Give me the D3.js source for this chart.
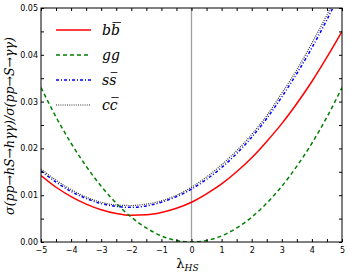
<!DOCTYPE html>
<html>
<head>
<meta charset="utf-8">
<script src="https://cdn.jsdelivr.net/npm/d3@7"></script>
<style>
  body { margin: 0; background: #fff; }
  .axis text { font-family: "DejaVu Sans", sans-serif; font-size: 8px; fill: #000; }
  .math { font-family: "DejaVu Serif", "Liberation Serif", serif; font-style: italic; }
</style>
</head>
<body>
<div id="chart"></div>
<script>
// lambda_HS grid and ratio values
const lam = [-5, -4.5, -4, -3.5, -3, -2.5, -2, -1.5, -1, -0.5, 0, 0.5, 1, 1.5, 2, 2.5, 3, 3.5, 4, 4.5, 5];
const bb = [0.0142, 0.0117, 0.0097, 0.0081, 0.0069, 0.0061, 0.0057, 0.0058, 0.0063, 0.0072, 0.0085, 0.0103, 0.0124, 0.0150, 0.0180, 0.0215, 0.0253, 0.0296, 0.0343, 0.0395, 0.0450];
const gg = [0.0330, 0.0267, 0.0211, 0.0162, 0.0119, 0.0083, 0.0053, 0.0030, 0.0013, 0.0003, 0.0000, 0.0003, 0.0013, 0.0030, 0.0053, 0.0083, 0.0119, 0.0162, 0.0211, 0.0267, 0.0330];
const ss = [0.0152, 0.0128, 0.0108, 0.0093, 0.0082, 0.0076, 0.0074, 0.0077, 0.0085, 0.0097, 0.0113, 0.0134, 0.0159, 0.0189, 0.0224, 0.0264, 0.0310, 0.0360, 0.0415, 0.0475, 0.0540];
const cc = [0.0156, 0.0132, 0.0112, 0.0096, 0.0085, 0.0079, 0.0078, 0.0081, 0.0088, 0.0100, 0.0117, 0.0139, 0.0165, 0.0195, 0.0230, 0.0270, 0.0318, 0.0368, 0.0425, 0.0485, 0.0550];
const xTicks = [-5, -4, -3, -2, -1, 0, 1, 2, 3, 4, 5];
const yTicks = [0, 0.01, 0.02, 0.03, 0.04, 0.05];

const specs = [
  { vals: bb, color: "#ff0000", dash: null, w: 1.5, a: "b", b: "b" },
  { vals: gg, color: "#008000", dash: "4,3", w: 1.5, a: "gg", b: null },
  { vals: ss, color: "#0000ff", dash: "3,2,1,2", w: 1.5, a: "s", b: "s" },
  { vals: cc, color: "#333333", dash: "1,1.2", w: 1.2, a: "c", b: "c" }
];

const width = 349, height = 274, margin = { top: 8, right: 7, bottom: 32, left: 41 };
const svg = d3.select("#chart").append("svg").attr("width", width).attr("height", height);
const x = d3.scaleLinear().domain([-5, 5]).range([margin.left, width - margin.right]);
const y = d3.scaleLinear().domain([0, 0.05]).range([height - margin.bottom, margin.top]);

svg.append("defs").append("clipPath").attr("id", "clip").append("rect")
  .attr("x", x(-5)).attr("y", y(0.05)).attr("width", x(5) - x(-5)).attr("height", y(0) - y(0.05));

// vertical line at 0
svg.append("line").attr("x1", x(0)).attr("x2", x(0)).attr("y1", y(0)).attr("y2", y(0.05))
  .attr("stroke", "#a0a0a0").attr("stroke-width", 1.3);

const line = d3.line().x((d, i) => x(lam[i])).y(d => y(d)).curve(d3.curveMonotoneX);
const g = svg.append("g").attr("clip-path", "url(#clip)");
specs.forEach(s => {
  g.append("path").datum(s.vals).attr("fill", "none").attr("stroke", s.color)
    .attr("stroke-width", s.w).attr("stroke-dasharray", s.dash).attr("d", line);
});

// ticks inward on all sides
const xMinor = d3.range(-5, 5.01, 0.5), yMinor = d3.range(0, 0.0501, 0.005);
svg.append("g").attr("class", "axis").attr("transform", `translate(0,${y(0)})`)
  .call(d3.axisBottom(x).tickValues(xMinor).tickSizeInner(-3).tickSizeOuter(0)
    .tickPadding(5).tickFormat(d => xTicks.includes(d) ? d3.format("d")(d).replace("-", "−") : ""));
svg.append("g").attr("class", "axis").attr("transform", `translate(0,${y(0.05)})`)
  .call(d3.axisTop(x).tickValues(xMinor).tickSizeInner(-3).tickSizeOuter(0).tickFormat(""));
svg.append("g").attr("class", "axis").attr("transform", `translate(${x(-5)},0)`)
  .call(d3.axisLeft(y).tickValues(yMinor).tickSizeInner(-3).tickSizeOuter(0)
    .tickPadding(3).tickFormat(d => yTicks.some(t => Math.abs(t - d) < 1e-9) ? d3.format(".2f")(d) : ""));
svg.append("g").attr("class", "axis").attr("transform", `translate(${x(5)},0)`)
  .call(d3.axisRight(y).tickValues(yMinor).tickSizeInner(-3).tickSizeOuter(0).tickFormat(""));
svg.selectAll(".axis .domain").remove();
svg.append("rect").attr("x", x(-5)).attr("y", y(0.05)).attr("width", x(5) - x(-5))
  .attr("height", y(0) - y(0.05)).attr("fill", "none").attr("stroke", "#000").attr("stroke-width", 1);

// legend
specs.forEach((s, i) => {
  const ly = 30 + i * 25;
  svg.append("line").attr("x1", 56).attr("x2", 91).attr("y1", ly).attr("y2", ly)
    .attr("stroke", s.color).attr("stroke-width", s.w).attr("stroke-dasharray", s.dash);
  const t = svg.append("text").attr("class", "math").attr("x", 102).attr("y", ly + 5)
    .attr("font-size", 14);
  t.append("tspan").text(s.a);
  if (s.b) {
    const tb = t.append("tspan").text(s.b);
    const w0 = t.node().getComputedTextLength();
    const w1 = tb.node().getComputedTextLength();
    svg.append("line").attr("x1", 102 + w0 - w1 + 1.5).attr("x2", 102 + w0 + 1)
      .attr("y1", ly - 7.5).attr("y2", ly - 7.5).attr("stroke", "#000").attr("stroke-width", 0.8);
  }
});

// axis labels
const xl = svg.append("text").attr("class", "math").attr("x", x(0) - 4).attr("y", 268)
  .attr("text-anchor", "middle").attr("font-size", 13).style("font-style", "normal");
xl.append("tspan").text("λ");
xl.append("tspan").attr("font-size", 9).attr("dy", 3).style("font-style", "italic").text("HS");

svg.append("text").attr("class", "math")
  .attr("transform", `translate(14,${(y(0) + y(0.05)) / 2 + 1}) rotate(-90)`)
  .attr("text-anchor", "middle").attr("font-size", 12.5)
  .text("σ(pp→hS→hγγ)/σ(pp→S→γγ)");
</script>
</body>
</html>
